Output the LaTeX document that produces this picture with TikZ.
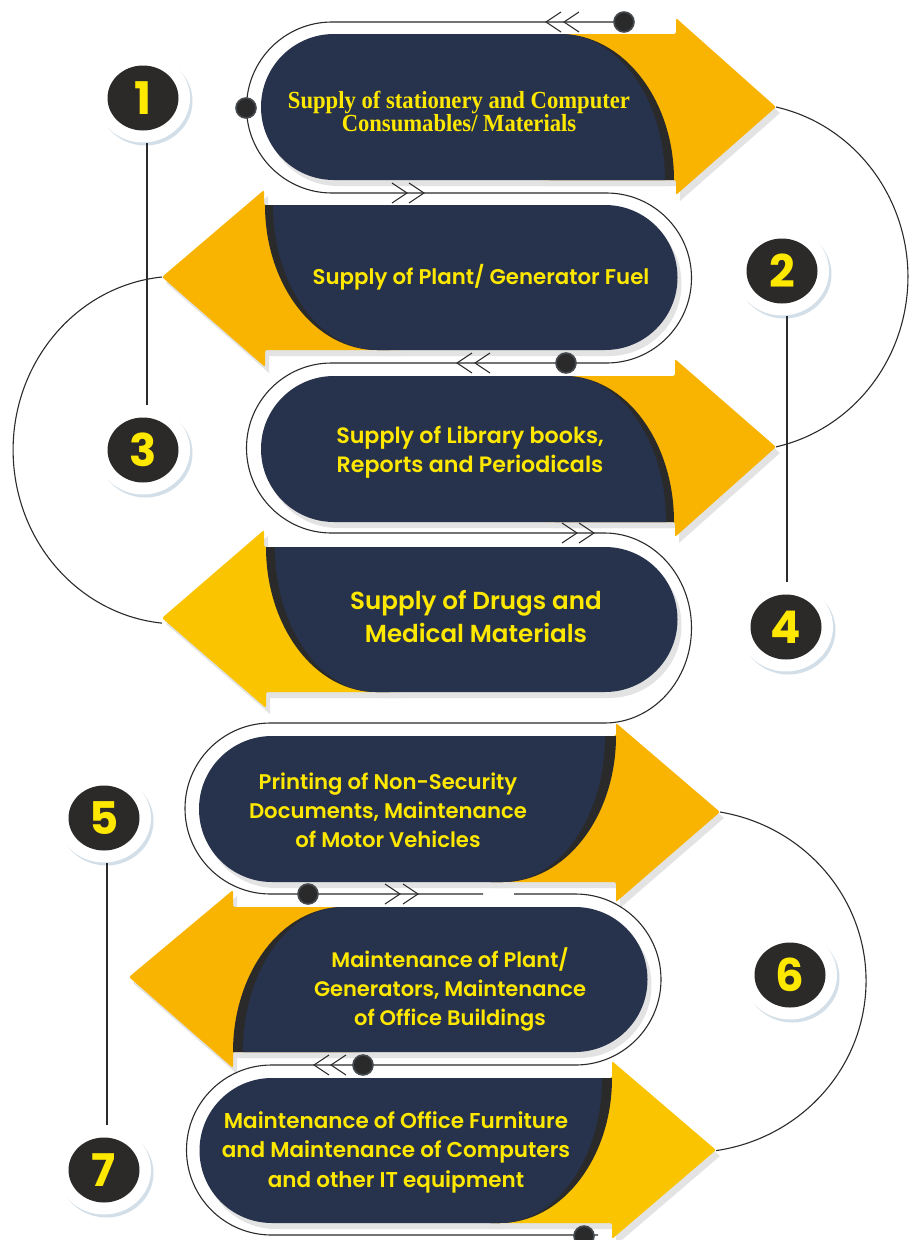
\documentclass[tikz,border=0pt]{standalone}
\usepackage{fontspec}
\setmainfont{Poppins}
\newfontfamily\popsb{Poppins SemiBold}
\newfontfamily\popb{Poppins Bold}
\newfontfamily\serifb[FakeStretch=0.92]{Liberation Serif Bold}
\usetikzlibrary{shapes.geometric}
\definecolor{navy}{HTML}{27324D}
\definecolor{yelA}{HTML}{F8B400}
\definecolor{yelB}{HTML}{FAC400}
\definecolor{stripec}{HTML}{2A2A2A}
\definecolor{shadowc}{HTML}{E3E3E3}
\definecolor{linec}{HTML}{2B2B2B}
\definecolor{txty}{HTML}{FFE800}
\definecolor{badgec}{HTML}{2B2A28}
\definecolor{halosh}{HTML}{D3DFE8}
\definecolor{dotc}{HTML}{2A2A2A}
\definecolor{dotring}{HTML}{464A4E}
\newcommand{\chevR}[2]{\draw[chev] (#1-15,#2-10) -- (#1,#2) -- (#1-15,#2+10);}
\newcommand{\chevL}[2]{\draw[chev] (#1+15,#2-10) -- (#1,#2) -- (#1+15,#2+10);}
\begin{document}
\begin{tikzpicture}[x=1pt,y=-1pt,
  outl/.style={draw=linec,line width=1.1pt},
  chev/.style={draw=linec,line width=1pt},
  conn/.style={draw=linec,line width=1.2pt},
  dotn/.style={circle,fill=dotc,draw=dotring,line width=1.6pt,minimum size=20pt,inner sep=0pt},
  halo/.style={ellipse,fill=white,minimum width=94pt,minimum height=89pt,inner sep=0pt},
  halos/.style={ellipse,fill=halosh,minimum width=94pt,minimum height=89pt,inner sep=0pt},
  badge/.style={ellipse,fill=badgec,minimum width=71pt,minimum height=65pt,inner sep=0pt,text=txty,font=\popb\fontsize{45}{45}\selectfont},
  rowtext/.style={text=txty,align=center,inner sep=0pt}
]
\useasboundingbox (0,0) rectangle (908,1240);
\fill[white] (0,0) rectangle (908,1240);

% ---------- shape paths ----------
% row 1 (right)
\def\yOne{(540,34) -- (676,34) -- (676,18) -- (776,107) -- (676,195) -- (676,180) -- (540,180) -- cycle}
\def\sOne{(550,34) -- (560,34) arc[start angle=-90,end angle=0,x radius=114,y radius=146] -- (550,180) -- cycle}
\def\nOne{(334,34) -- (560,34) arc[start angle=-90,end angle=0,x radius=105,y radius=146] -- (334,180) arc[start angle=90,end angle=270,radius=73] -- cycle}
% row 2 (left)
\def\yTwo{(400,205) -- (264,205) -- (264,190) -- (162,277) -- (265,367) -- (265,350) -- (400,350) -- cycle}
\def\sTwo{(377,205) -- (265,205) arc[start angle=180,end angle=90,x radius=112,y radius=145] -- (390,350) -- (390,205) -- cycle}
\def\nTwo{(605,205) -- (273,205) arc[start angle=180,end angle=90,x radius=104,y radius=145] -- (605,350) arc[start angle=90,end angle=-90,radius=72.5] -- cycle}
% row 3 (right)
\def\yThree{(545,376) -- (675,376) -- (675,359) -- (776,447) -- (675,537) -- (675,522) -- (545,522) -- cycle}
\def\sThree{(555,376) -- (565,376) arc[start angle=-90,end angle=0,x radius=109,y radius=146] -- (555,522) -- cycle}
\def\nThree{(334,376) -- (565,376) arc[start angle=-90,end angle=0,x radius=101,y radius=146] -- (334,522) arc[start angle=90,end angle=270,radius=73] -- cycle}
% row 4 (left)
\def\yFour{(400,547) -- (264,547) -- (264,530) -- (162,618) -- (266,708) -- (266,692) -- (400,692) -- cycle}
\def\sFour{(376,547) -- (266,547) arc[start angle=180,end angle=90,x radius=110,y radius=145] -- (390,692) -- (390,547) -- cycle}
\def\nFour{(605,547) -- (275,547) arc[start angle=180,end angle=90,x radius=101,y radius=145] -- (605,692) arc[start angle=90,end angle=-90,radius=72.5] -- cycle}
% row 5 (right)
\def\yFive{(490,736) -- (616,736) -- (616,723) -- (720,812) -- (616,902) -- (616,882) -- (490,882) -- cycle}
\def\sFive{(490,736) -- (616,736) arc[start angle=0,end angle=90,x radius=113,y radius=146] -- (490,882) -- cycle}
\def\nFive{(272,736) -- (605,736) arc[start angle=0,end angle=90,x radius=102,y radius=146] -- (272,882) arc[start angle=90,end angle=270,radius=73] -- cycle}
% row 6 (left)
\def\ySix{(360,907) -- (233,907) -- (233,890) -- (129,977) -- (233,1068) -- (233,1052) -- (360,1052) -- cycle}
\def\sSix{(343,907) arc[start angle=270,end angle=180,x radius=110,y radius=145] -- (360,1052) -- (360,907) -- cycle}
\def\nSix{(575,907) -- (343,907) arc[start angle=270,end angle=180,x radius=100,y radius=145] -- (575,1052) arc[start angle=90,end angle=-90,radius=72.5] -- cycle}
% row 7 (right)
\def\ySeven{(490,1078) -- (612,1078) -- (612,1061) -- (716,1150) -- (612,1239) -- (612,1223) -- (490,1223) -- cycle}
\def\sSeven{(490,1078) -- (612,1078) arc[start angle=0,end angle=90,x radius=112,y radius=145] -- (490,1223) -- cycle}
\def\nSeven{(272,1078) -- (602,1078) arc[start angle=0,end angle=90,x radius=102,y radius=145] -- (272,1223) arc[start angle=90,end angle=270,radius=72.5] -- cycle}

% ---------- shadows ----------
\begin{scope}[shift={(4,6)}]
\fill[shadowc] \yOne; \fill[shadowc] \nOne;
\fill[shadowc] \yTwo; \fill[shadowc] \nTwo;
\fill[shadowc] \yThree; \fill[shadowc] \nThree;
\fill[shadowc] \yFour; \fill[shadowc] \nFour;
\fill[shadowc] \yFive; \fill[shadowc] \nFive;
\fill[shadowc] \ySix; \fill[shadowc] \nSix;
\fill[shadowc] \ySeven; \fill[shadowc] \nSeven;
\end{scope}

% ---------- arrows ----------
\fill[yelA,rounded corners=2pt] \yOne;   \fill[stripec] \sOne;   \fill[navy] \nOne;
\fill[yelA,rounded corners=2pt] \yTwo;   \fill[stripec] \sTwo;   \fill[navy] \nTwo;
\fill[yelA,rounded corners=2pt] \yThree; \fill[stripec] \sThree; \fill[navy] \nThree;
\fill[yelB,rounded corners=2pt] \yFour;  \fill[stripec] \sFour;  \fill[navy] \nFour;
\fill[yelA,rounded corners=2pt] \yFive;  \fill[stripec] \sFive;  \fill[navy] \nFive;
\fill[yelA,rounded corners=2pt] \ySix;   \fill[stripec] \sSix;   \fill[navy] \nSix;
\fill[yelB,rounded corners=2pt] \ySeven; \fill[stripec] \sSeven; \fill[navy] \nSeven;

% ---------- outline track ----------
\draw[outl] (624,22) -- (332,22) arc[start angle=270,end angle=90,radius=85.5]
  -- (606.5,193) arc[start angle=-90,end angle=90,radius=85]
  -- (331.5,363) arc[start angle=270,end angle=90,radius=85]
  -- (604.5,533) arc[start angle=-90,end angle=90,x radius=87,y radius=95]
  -- (270.5,723) arc[start angle=270,end angle=90,radius=85.5]
  -- (483,894);
\draw[outl] (514,894) -- (575.5,894) arc[start angle=-90,end angle=90,radius=85.5]
  -- (271.5,1065) arc[start angle=270,end angle=90,radius=85]
  -- (598,1235);

\chevL{546}{22}\chevL{564}{22}
\chevR{407}{193}\chevR{424}{193}
\chevL{457}{363}\chevL{475}{363}
\chevR{577}{533}\chevR{594}{533}
\chevR{400}{894}\chevR{418}{894}
\chevL{314}{1065}\chevL{331}{1065}

\node[dotn] (d1) at (624,22) {};
\node[dotn] (d2) at (246,108) {};
\node[dotn] (d3) at (566,363) {};
\node[dotn] (d4) at (308,894) {};
\node[dotn] (d5) at (363,1065) {};
\node[dotn] (d6) at (584,1236) {};

% ---------- texts ----------
\node[rowtext,font=\serifb\fontsize{24.6}{23}\selectfont] (t1) at (459,111) {Supply of stationery and Computer\\Consumables/ Materials};
\node[rowtext,font=\popsb\fontsize{21.3}{28.8}\selectfont] (t2) at (481,277) {Supply of Plant/ Generator Fuel};
\node[rowtext,font=\popsb\fontsize{22.2}{28.5}\selectfont] (t3) at (470,452) {Supply of Library books,\\Reports and Periodicals};
\node[rowtext,font=\popsb\fontsize{24.6}{33}\selectfont] (t4) at (476,617) {Supply of Drugs and\\Medical Materials};
\node[rowtext,font=\popsb\fontsize{21.2}{29}\selectfont] (t5) at (388,810) {Printing of Non-Security\\Documents, Maintenance\\of Motor Vehicles};
\node[rowtext,font=\popsb\fontsize{21}{29}\selectfont] (t6) at (450,989) {Maintenance of Plant/\\Generators, Maintenance\\of Office Buildings};
\node[rowtext,font=\popsb\fontsize{21.5}{29.5}\selectfont] (t7) at (396,1152) {Maintenance of Office Furniture\\and Maintenance of Computers\\and other IT equipment};

% ---------- big arcs between arrow tips ----------
\coordinate (tip1) at (776,107);
\coordinate (tip2) at (162,277);
\coordinate (tip5) at (720,812);
\draw[outl] (tip1) arc[start angle=-77.6,end angle=77.6,x radius=168,y radius=174];
\draw[outl] (tip2) arc[start angle=264.4,end angle=95.6,x radius=165,y radius=173.9];
\draw[outl] (tip5) arc[start angle=-80.2,end angle=81.5,x radius=176,y radius=171.5];

% ---------- badges ----------
\foreach \n/\cx/\cy in {1/143/98,2/782/271,3/143/450,4/786/627,5/104/818,6/790/975,7/104/1170}{
  \node[halos] (hs\n) at (\cx+2.5,\cy+3) {};
  \node[halo] (h\n) at (\cx,\cy) {};
  \node[badge] (b\n) at (\cx,\cy) {\n};
}
\draw[conn] ([xshift=4pt]h1.south) -- ([xshift=4pt]h3.north);
\draw[conn] ([xshift=5pt]h2.south) -- ([xshift=1pt]h4.north);
\draw[conn] ([xshift=3pt]h5.south) -- ([xshift=3pt]h7.north);
\end{tikzpicture}
\end{document}
